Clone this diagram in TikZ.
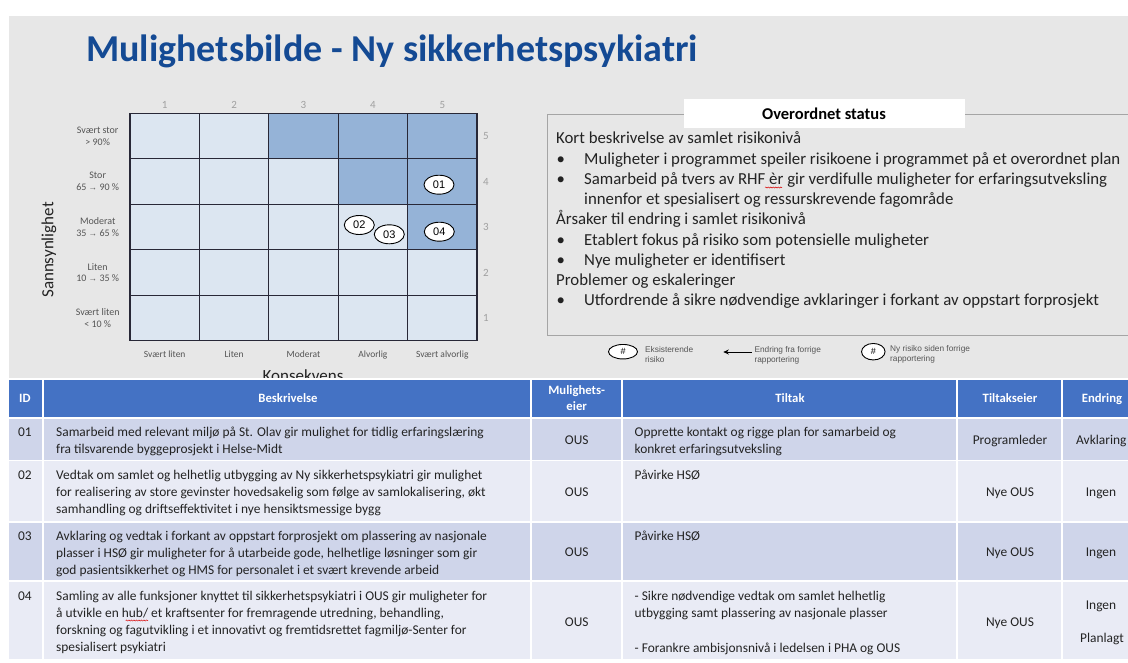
\documentclass[tikz,border=0pt]{standalone}
\usepackage{fontspec}
\setmainfont{Carlito}
\newfontfamily\arialf{Liberation Sans}
\usetikzlibrary{shapes.geometric,arrows.meta,decorations.pathmorphing}
\newcommand\fsz[2]{\fontsize{#1}{#2}\selectfont}
\newcommand\rarr{{\arialf\fsz{8.5}{11.6}\symbol{"2192}}}
\definecolor{bggray}{RGB}{231,231,231}
\definecolor{titleblue}{RGB}{20,74,148}
\definecolor{mlight}{RGB}{220,230,241}
\definecolor{mdark}{RGB}{149,179,215}
\definecolor{gridc}{RGB}{40,40,55}
\definecolor{hdrblue}{RGB}{68,114,196}
\definecolor{rowA}{RGB}{207,213,234}
\definecolor{rowB}{RGB}{233,235,245}
\definecolor{txt}{RGB}{35,35,35}
\definecolor{lblgray}{RGB}{85,85,85}
\definecolor{numgray}{RGB}{160,160,160}
\definecolor{boxline}{RGB}{165,165,165}
\tikzset{
  tag/.style={ellipse, draw=black, line width=0.9pt, fill=white, minimum width=30pt, minimum height=19pt, inner sep=0pt, font=\arialf\fsz{11}{12}},
  lgtag/.style={ellipse, draw=black, line width=0.9pt, fill=white, inner sep=0pt, font=\arialf\fsz{9}{10}},
  lgtxt/.style={anchor=base west, inner sep=0pt, align=left, font=\arialf\fsz{8.3}{10}, text=lblgray},
  rowlbl/.style={anchor=center, inner sep=0pt, align=center, font=\fsz{10}{11.6}, text=lblgray},
  collbl/.style={anchor=base, inner sep=0pt, font=\fsz{9.5}{10}, text=lblgray},
  numlbl/.style={anchor=center, inner sep=0pt, font=\fsz{11}{12}, text=numgray},
  axis/.style={inner sep=0pt, font=\fsz{17}{20}, text=txt},
  stxt/.style={anchor=base west, inner sep=0pt, font=\fsz{16.8}{20.2}, text=txt},
  hd/.style={anchor=base, inner sep=0pt, font=\bfseries\fsz{12.7}{16.7}, text=white},
  body/.style={anchor=base west, inner sep=0pt, align=left, font=\fsz{13.4}{17.3}, text=txt},
  bodyc/.style={anchor=base, inner sep=0pt, font=\fsz{13.4}{17.3}, text=txt},
  squig/.style={draw=red!85!black, line width=0.5pt, decorate, decoration={snake, amplitude=0.6pt, segment length=2.5pt}},
  cellbox/.style={draw=white, line width=1.4pt}
}
\begin{document}
\begin{tikzpicture}[x=1pt,y=-1pt]
\useasboundingbox (0,0) rectangle (1128,662);
\clip (0,0) rectangle (1128,662);
\fill[white] (0,0) rectangle (1128,662);
\fill[bggray] (9,16) rectangle (1128,380);

% title
\node[anchor=base west, inner sep=0pt, font=\bfseries\fsz{38}{42}, text=titleblue] (title) at (86,61) {Mulighetsbilde - Ny sikkerhetspsykiatri};

% risk matrix
\fill[mlight] (130,113.3) rectangle (477,340.8);
\fill[mdark] (268.8,113.3) rectangle (477,158.8);
\fill[mdark] (338.2,158.8) rectangle (477,204.3);
\fill[mdark] (407.6,204.3) rectangle (477,249.8);
\foreach \x in {130,199.4,268.8,338.2,407.6,477}
  \draw[gridc, line width=1.2pt] (\x,113.3) -- (\x,340.8);
\foreach \y in {113.3,158.8,204.3,249.8,295.3,340.8}
  \draw[gridc, line width=1.2pt] (130,\y) -- (477,\y);

\foreach \n/\x in {1/164.7,2/234.1,3/303.5,4/372.9,5/442.3}
  \node[numlbl] (cn\n) at (\x,104.7) {\n};
\foreach \n/\y in {5/136,4/181.5,3/227,2/272.5,1/318}
  \node[numlbl] (rn\n) at (486,\y) {\n};

\node[rowlbl] (rl5) at (97.7,136) {Svært stor\\> 90\%};
\node[rowlbl] (rl4) at (97.7,181.5) {Stor\\65 \rarr{} 90 \%};
\node[rowlbl] (rl3) at (97.7,227) {Moderat\\35 \rarr{} 65 \%};
\node[rowlbl] (rl2) at (97.7,272.5) {Liten\\10 \rarr{} 35 \%};
\node[rowlbl] (rl1) at (97.7,318) {Svært liten\\< 10 \%};

\node[collbl] (k1) at (164.7,357.5) {Svært liten};
\node[collbl] (k2) at (234.1,357.5) {Liten};
\node[collbl] (k3) at (303.5,357.5) {Moderat};
\node[collbl] (k4) at (372.9,357.5) {Alvorlig};
\node[collbl] (k5) at (442.3,357.5) {Svært alvorlig};

\node[axis, rotate=90] (sann) at (49,250) {Sannsynlighet};
\node[axis, anchor=base] (kons) at (303,381) {Konsekvens};

\node[tag] (r01) at (439,184.7) {01};
\node[tag] (r02) at (359.3,225) {02};
\node[tag] (r03) at (389.3,234.3) {03};
\node[tag] (r04) at (439.3,231.7) {04};

% status box
\draw[boxline, line width=0.8pt] (1135,114.3) -- (547.5,114.3) -- (547.5,335.7) -- (1135,335.7);
\fill[white] (684,99) rectangle (964.5,128.3);
\node[anchor=center, inner sep=0pt, font=\bfseries\fsz{16.5}{18}, text=black] (sthead) at (824,114) {Overordnet status};
\node[stxt] (s1) at (556,143.8) {Kort beskrivelse av samlet risikonivå};
\node[stxt] (b1) at (556.5,164.2) {•};
\node[stxt] (s2) at (584,164.2) {Muligheter i programmet speiler risikoene i programmet på et overordnet plan};
\node[stxt] (b2) at (556.5,184.2) {•};
\node[stxt] (s3) at (584,184.2) {Samarbeid på tvers av RHF èr gir verdifulle muligheter for erfaringsutveksling};
\node[stxt] (s4) at (584,204.6) {innenfor et spesialisert og ressurskrevende fagområde};
\node[stxt] (s5) at (556,224.8) {Årsaker til endring i samlet risikonivå};
\node[stxt] (b3) at (556.5,245) {•};
\node[stxt] (s6) at (584,245) {Etablert fokus på risiko som potensielle muligheter};
\node[stxt] (b4) at (556.5,265.2) {•};
\node[stxt] (s7) at (584,265.2) {Nye muligheter er identifisert};
\node[stxt] (s8) at (556,285.4) {Problemer og eskaleringer};
\node[stxt] (b5) at (556.5,305.6) {•};
\node[stxt] (s9) at (584,305.6) {Utfordrende å sikre nødvendige avklaringer i forkant av oppstart forprosjekt};
\coordinate (sqA1) at (765,187.5);
\coordinate (sqA2) at (782,187.5);
\draw[squig] (sqA1) -- (sqA2);

% legend
\node[lgtag, minimum width=29pt, minimum height=14.5pt] (lg1) at (623,351.7) {\#};
\node[lgtxt] (lg1t) at (645,362.5) {Eksisterende\\risiko};
\coordinate (arrA) at (751.7,352);
\coordinate (arrB) at (723.3,352);
\draw[-{Stealth[length=5.5pt,width=5pt]}, line width=1pt] (arrA) -- (arrB);
\node[lgtxt] (lg2t) at (754.3,362.5) {Endring fra forrige\\rapportering};
\node[lgtag, minimum width=23.5pt, minimum height=16.5pt] (lg3) at (873.3,351.7) {\#};
\node[lgtxt] (lg3t) at (890,361.5) {Ny risiko siden forrige\\rapportering};

% table
\foreach \ya/\yb/\c in {379/418/hdrblue,418/460.5/rowA,460.5/522/rowB,522/581/rowA,581/659.5/rowB}
  \foreach \xa/\xb in {8/43,43/531,531/622,622/957,957/1062,1062/1140}
    \path[fill=\c, cellbox] (\xa,\ya) rectangle (\xb,\yb);
\draw[white, line width=2.2pt] (8,418) -- (1140,418);

\node[hd, anchor=base west] (hID) at (19,402.4) {ID};
\node[hd] (hB) at (288,402.4) {Beskrivelse};
\node[hd] (hM1) at (576.7,394) {Mulighets-};
\node[hd] (hM2) at (576.7,410.7) {eier};
\node[hd] (hT) at (790,402.4) {Tiltak};
\node[hd] (hTE) at (1010,402.4) {Tiltakseier};
\node[hd] (hE) at (1102,402.4) {Endring};

\node[body] (id1) at (18,436) {01};
\node[body] (id2) at (18,479.2) {02};
\node[body] (id3) at (18,540) {03};
\node[body] (id4) at (18,600) {04};

\node[body] (d1) at (56,453.3) {Samarbeid med relevant miljø på St. Olav gir mulighet for tidlig erfaringslæring\\fra tilsvarende byggeprosjekt i Helse-Midt};
\node[body] (d2) at (56,513.8) {Vedtak om samlet og helhetlig utbygging av Ny sikkerhetspsykiatri gir mulighet\\for realisering av store gevinster hovedsakelig som følge av samlokalisering, økt\\samhandling og driftseffektivitet i nye hensiktsmessige bygg};
\node[body] (d3) at (56,574.6) {Avklaring og vedtak i forkant av oppstart forprosjekt om plassering av nasjonale\\plasser i HSØ gir muligheter for å utarbeide gode, helhetlige løsninger som gir\\god pasientsikkerhet og HMS for personalet i et svært krevende arbeid};
\node[body] (d4) at (56,651.9) {Samling av alle funksjoner knyttet til sikkerhetspsykiatri i OUS gir muligheter for\\å utvikle en hub/ et kraftsenter for fremragende utredning, behandling,\\forskning og fagutvikling i et innovativt og fremtidsrettet fagmiljø-Senter for\\spesialisert psykiatri};
\coordinate (sqB1) at (125.7,620.5);
\coordinate (sqB2) at (148.2,620.5);
\draw[squig] (sqB1) -- (sqB2);

\node[bodyc] (o1) at (576.7,444.2) {OUS};
\node[bodyc] (o2) at (576.7,496) {OUS};
\node[bodyc] (o3) at (576.7,556.5) {OUS};
\node[bodyc] (o4) at (576.7,626) {OUS};

\node[body] (t1) at (634.5,453.3) {Opprette kontakt og rigge plan for samarbeid og\\konkret erfaringsutveksling};
\node[body] (t2) at (634.5,479.2) {Påvirke HSØ};
\node[body] (t3) at (634.5,540) {Påvirke HSØ};
\node[body] (t4a) at (634.5,617.3) {- Sikre nødvendige vedtak om samlet helhetlig\\utbygging samt plassering av nasjonale plasser};
\node[body] (t4b) at (634.5,652) {- Forankre ambisjonsnivå i ledelsen i PHA og OUS};

\node[bodyc] (e1) at (1010,444.2) {Programleder};
\node[bodyc] (e2) at (1010,496) {Nye OUS};
\node[bodyc] (e3) at (1010,556.5) {Nye OUS};
\node[bodyc] (e4) at (1010,626) {Nye OUS};

\node[body] (c1) at (1076,444.2) {Avklaring};
\node[bodyc] (c2) at (1101,496) {Ingen};
\node[bodyc] (c3) at (1101,556.5) {Ingen};
\node[bodyc] (c4a) at (1101,609.2) {Ingen};
\node[body] (c4b) at (1080,642.5) {Planlagt};
\end{tikzpicture}
\end{document}
